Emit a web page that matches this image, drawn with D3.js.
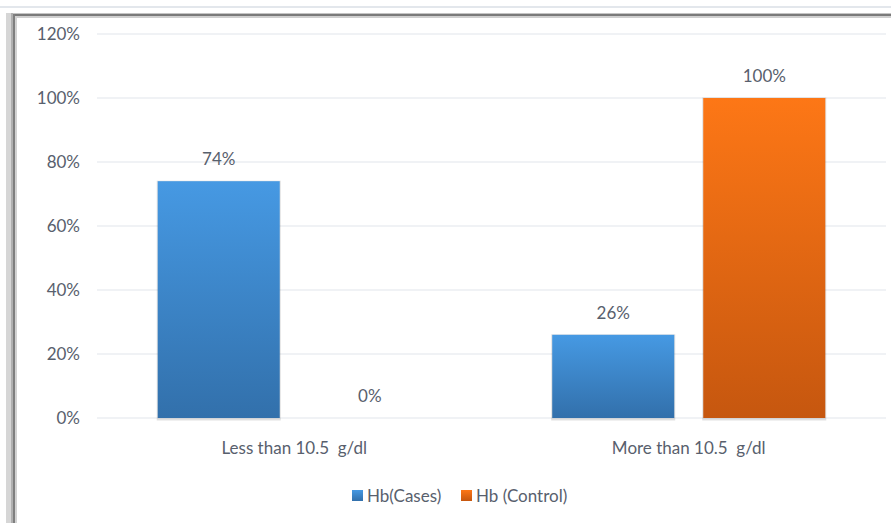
<!DOCTYPE html>
<html>
<head>
<meta charset="utf-8">
<script src="https://cdnjs.cloudflare.com/ajax/libs/d3/7.8.5/d3.min.js"></script>
<style>
  body { margin: 0; background: #fff; }
  text { font-family: Lato, "Open Sans", sans-serif; fill: #58606d; }
</style>
</head>
<body>
<div id="chart"></div>
<script>
// chart data
const categories = ["Less than 10.5  g/dl", "More than 10.5  g/dl"];
const seriesNames = ["Hb(Cases)", "Hb (Control)"];
const casesValues = [74, 26];
const controlValues = [0, 100];
const yTicks = [0, 20, 40, 60, 80, 100, 120];

const W = 891, H = 523;
const margin = {top: 34, right: 5, bottom: 105, left: 97},
      width = W - margin.left - margin.right,
      height = H - margin.top - margin.bottom;

const svg = d3.select("#chart")
  .append("svg")
  .attr("width", W)
  .attr("height", H);

// frame round the chart
svg.append("rect").attr("x", 0).attr("y", 6).attr("width", W).attr("height", 2).attr("fill", "#e3e7ec");
svg.append("rect").attr("x", 8).attr("y", 13).attr("width", W).attr("height", 1).attr("fill", "#c4c4c4");
svg.append("rect").attr("x", 8).attr("y", 14).attr("width", W).attr("height", 2).attr("fill", "#7a7a7a");
svg.append("rect").attr("x", 8).attr("y", 16).attr("width", W).attr("height", 2).attr("fill", "#cfcfcf");
svg.append("rect").attr("x", 6).attr("y", 13).attr("width", 5).attr("height", H).attr("fill", "#d6d6d6");
svg.append("rect").attr("x", 11).attr("y", 13).attr("width", 2).attr("height", H).attr("fill", "#b0b0b0");
svg.append("rect").attr("x", 13).attr("y", 14).attr("width", 2).attr("height", H).attr("fill", "#7f7f7f");
svg.append("rect").attr("x", 15).attr("y", 16).attr("width", 2).attr("height", H).attr("fill", "#d2d2d2");

const defs = svg.append("defs");
const g = svg.append("g")
  .attr("transform", "translate(" + margin.left + "," + margin.top + ")");

// gradients for bars
const barColors = [["#4699e3", "#3270ab"], ["#fd7716", "#c6570f"]];
barColors.forEach(function(c, i) {
  const lg = defs.append("linearGradient").attr("id", "bar" + i)
    .attr("x1", 0).attr("y1", 0).attr("x2", 0).attr("y2", 1);
  lg.append("stop").attr("offset", "0%").attr("stop-color", c[0]);
  lg.append("stop").attr("offset", "100%").attr("stop-color", c[1]);
});

// scales
const x0 = d3.scaleBand().domain(categories).range([0, width]).padding(0);
const x1 = d3.scaleBand().domain(seriesNames).range([0, x0.bandwidth()])
  .paddingInner(0.192).paddingOuter(0.402);
const y = d3.scaleLinear().domain([0, 120]).range([height, 0]);

// gridlines
g.selectAll(".grid").data(yTicks).enter().append("line")
  .attr("x1", 0).attr("x2", width)
  .attr("y1", d => y(d)).attr("y2", d => y(d))
  .attr("stroke", "#e1e5ec").attr("stroke-width", 1.2);

// y axis labels
const yAxis = g.append("g")
  .call(d3.axisLeft(y).tickValues(yTicks).tickFormat(d => d + "%").tickSize(0).tickPadding(17));
yAxis.select(".domain").remove();
yAxis.selectAll("text").style("font-size", "17px").attr("fill", "#58606d");

// bars
const rows = categories.map(function(c, i) {
  return {cat: c, vals: [casesValues[i], controlValues[i]]};
});
const group = g.selectAll(".grp").data(rows).enter().append("g")
  .attr("transform", d => "translate(" + x0(d.cat) + ",0)");
const barData = d => d.vals.map((v, i) => ({v: v, i: i})).filter(b => b.v > 0);
// soft shadow
group.selectAll(".sh").data(barData).enter().append("rect")
  .attr("x", d => x1(seriesNames[d.i]) - 1)
  .attr("width", x1.bandwidth() + 2)
  .attr("y", d => y(d.v) - 0.5)
  .attr("height", d => height - y(d.v) + 3)
  .attr("fill", "#000").attr("opacity", 0.12);
group.selectAll(".bar").data(barData).enter().append("rect")
  .attr("x", d => x1(seriesNames[d.i]))
  .attr("width", x1.bandwidth())
  .attr("y", d => y(d.v))
  .attr("height", d => height - y(d.v))
  .attr("fill", d => "url(#bar" + d.i + ")");
group.selectAll(".lbl").data(d => d.vals.map((v, i) => ({v: v, i: i})))
  .enter().append("text")
  .attr("x", d => x1(seriesNames[d.i]) + x1.bandwidth() / 2)
  .attr("y", d => y(d.v) - 16)
  .attr("text-anchor", "middle")
  .style("font-size", "17px")
  .text(d => d.v + "%");

// x axis labels
g.selectAll(".xl").data(categories).enter().append("text")
  .attr("x", d => x0(d) + x0.bandwidth() / 2)
  .attr("y", height + 36)
  .attr("text-anchor", "middle")
  .style("font-size", "17px")
  .style("white-space", "pre")
  .attr("xml:space", "preserve")
  .text(d => d);

// legend
const legend = svg.append("g").attr("transform", "translate(352,490)");
const legX = [0, 109];
seriesNames.forEach(function(s, i) {
  legend.append("rect").attr("x", legX[i]).attr("y", 0).attr("width", 11).attr("height", 11)
    .attr("fill", "url(#bar" + i + ")");
  legend.append("text").attr("x", legX[i] + 15).attr("y", 12)
    .style("font-size", "17px").text(s);
});
</script>
</body>
</html>
